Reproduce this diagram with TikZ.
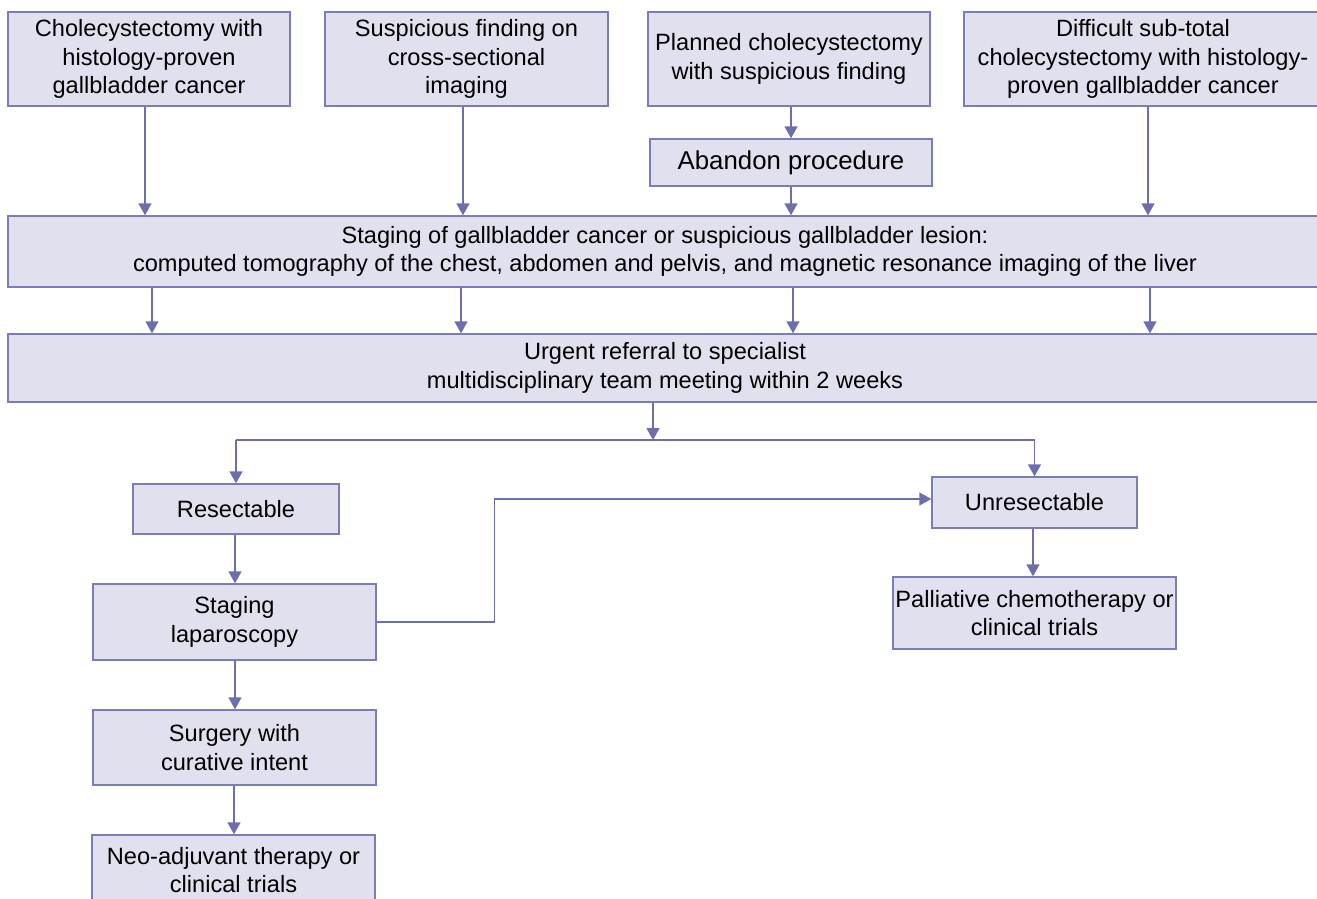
\documentclass[tikz,border=0pt]{standalone}
\usepackage{fontspec}
\setmainfont{Liberation Sans}
\usetikzlibrary{arrows.meta}
\definecolor{boxfill}{RGB}{224,224,238}
\definecolor{boxline}{RGB}{124,124,184}
\definecolor{arrcol}{RGB}{110,110,172}
\tikzset{
  box/.style={draw=boxline, fill=boxfill, line width=1.4pt, inner sep=0pt, align=center,
    font=\fontsize{23.6}{28.5}\selectfont},
  arr/.style={draw=arrcol, line width=1.5pt, -{Triangle[width=13pt,length=12pt]}},
  ln/.style={draw=arrcol, line width=1.5pt},
}
\begin{document}
\begin{tikzpicture}[x=1pt,y=-1pt]
\useasboundingbox (0,0) rectangle (1317,899);
\fill[white] (0,0) rectangle (1317,899);

\node[box, minimum width=282pt, minimum height=94pt] (a1) at (149,59) {Cholecystectomy with\\histology-proven\\gallbladder cancer};
\node[box, minimum width=283pt, minimum height=94pt] (a2) at (466.5,59) {Suspicious finding on\\cross-sectional\\imaging};
\node[box, minimum width=282pt, minimum height=94pt] (a3) at (789,59) {Planned cholecystectomy\\with suspicious finding};
\node[box, minimum width=358pt, minimum height=94pt] (a4) at (1143,59) {Difficult sub-total\\cholecystectomy with histology-\\proven gallbladder cancer};
\node[box, minimum width=282pt, minimum height=47pt, font=\fontsize{25.8}{30}\selectfont] (ab) at (791,162.5) {Abandon procedure};
\node[box, minimum width=1314pt, minimum height=71pt] (st) at (665,251.5) {Staging of gallbladder cancer or suspicious gallbladder lesion:\\computed tomography of the chest, abdomen and pelvis, and magnetic resonance imaging of the liver};
\node[box, minimum width=1314pt, minimum height=68pt] (ur) at (665,368) {Urgent referral to specialist\\multidisciplinary team meeting within 2 weeks};
\node[box, minimum width=206pt, minimum height=50pt] (res) at (236,509) {Resectable};
\node[box, minimum width=205pt, minimum height=51pt] (unr) at (1034.5,502.5) {Unresectable};
\node[box, minimum width=283pt, minimum height=76pt] (sl) at (234.5,622) {Staging\\laparoscopy};
\node[box, minimum width=283pt, minimum height=72pt] (pal) at (1034.5,613) {Palliative chemotherapy or\\clinical trials};
\node[box, minimum width=283pt, minimum height=75pt] (su) at (234.5,747.5) {Surgery with\\curative intent};
\node[box, minimum width=283pt, minimum height=70pt] (neo) at (233.5,870) {Neo-adjuvant therapy or\\clinical trials};

% top row to staging
\draw[arr] (145,0 |- a1.south) -- (145,0 |- st.north);
\draw[arr] (463,0 |- a2.south) -- (463,0 |- st.north);
\draw[arr] (791,0 |- a3.south) -- (791,0 |- ab.north);
\draw[arr] (791,0 |- ab.south) -- (791,0 |- st.north);
\draw[arr] (1148,0 |- a4.south) -- (1148,0 |- st.north);

% staging to urgent
\draw[arr] (152,0 |- st.south) -- (152,0 |- ur.north);
\draw[arr] (461,0 |- st.south) -- (461,0 |- ur.north);
\draw[arr] (793,0 |- st.south) -- (793,0 |- ur.north);
\draw[arr] (1150,0 |- st.south) -- (1150,0 |- ur.north);

% split
\coordinate (sp) at (653,440);
\draw[arr] (ur.south -| sp) -- (sp);
\draw[ln] (sp -| res.north) -- (sp -| unr.north);
\draw[arr] (sp -| res.north) -- (res.north);
\draw[arr] (sp -| unr.north) -- (unr.north);

% left chain
\draw[arr] (res.south -| 235,0) -- (sl.north -| 235,0);
\draw[arr] (sl.south -| 235,0) -- (su.north -| 235,0);
\draw[arr] (su.south -| 234,0) -- (neo.north -| 234,0);

% staging laparoscopy to unresectable
\draw[arr] (sl.east) -- ++(118,0) |- ([yshift=3.5pt]unr.west);

% right chain
\draw[arr] (unr.south -| 1033,0) -- (pal.north -| 1033,0);
\end{tikzpicture}
\end{document}
